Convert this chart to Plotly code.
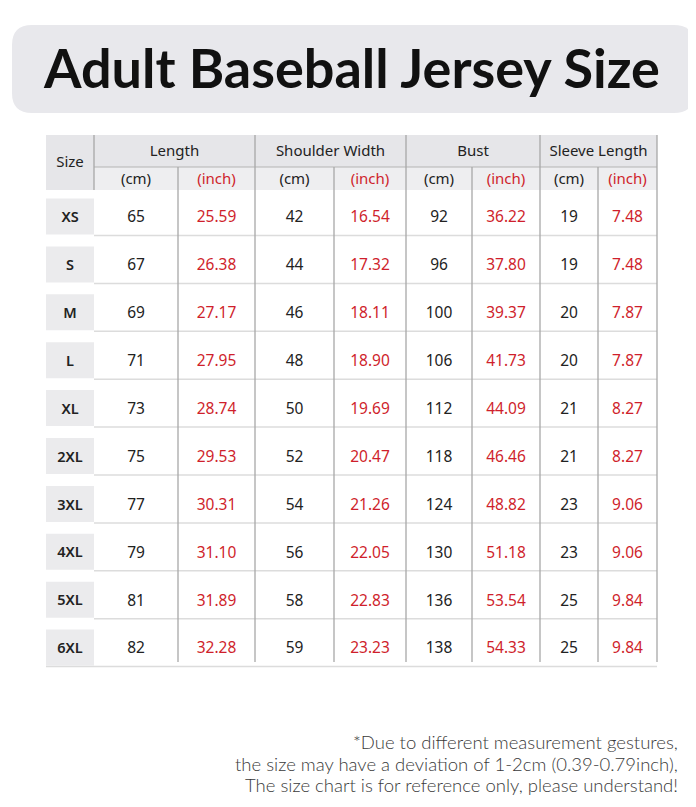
import plotly.graph_objects as go

# ---- data ----
sizes = ["XS", "S", "M", "L", "XL", "2XL", "3XL", "4XL", "5XL", "6XL"]
length_cm = [65, 67, 69, 71, 73, 75, 77, 79, 81, 82]
length_in = [25.59, 26.38, 27.17, 27.95, 28.74, 29.53, 30.31, 31.10, 31.89, 32.28]
shoulder_cm = [42, 44, 46, 48, 50, 52, 54, 56, 58, 59]
shoulder_in = [16.54, 17.32, 18.11, 18.90, 19.69, 20.47, 21.26, 22.05, 22.83, 23.23]
bust_cm = [92, 96, 100, 106, 112, 118, 124, 130, 136, 138]
bust_in = [36.22, 37.80, 39.37, 41.73, 44.09, 46.46, 48.82, 51.18, 53.54, 54.33]
sleeve_cm = [19, 19, 20, 20, 21, 21, 23, 23, 25, 25]
sleeve_in = [7.48, 7.48, 7.87, 7.87, 8.27, 8.27, 9.06, 9.06, 9.84, 9.84]

groups = ["Length", "Shoulder Width", "Bust", "Sleeve Length"]
units = ["(cm)", "(inch)"]
title = "Adult Baseball Jersey Size"
notes = [
    "*Due to different measurement gestures,",
    "the size may have a deviation of 1-2cm (0.39-0.79inch),",
    "The size chart is for reference only, please understand!",
]

# ---- layout constants (pixels of the page) ----
W, H = 696, 807
OFF = 8  # page body margin around the plot div
COL_EDGES = [46, 94, 178, 255, 334, 406, 472, 540, 598, 657]
HEAD_TOP, HEAD_MID, HEAD_BOT = 135, 167, 190
ROW0, PITCH = 216.5, 47.9
TABLE_BOT = 662
TEXT_DY = 2  # text baseline nudge

RED = "#CF1F2C"
INK = "#222222"
VLINE = "#A8A8A8"
HLINE = "#DCDCDC"
BODY_FONT = "Noto Sans"

rows_y = [ROW0 + i * PITCH for i in range(len(sizes))]
text_y = [y + TEXT_DY for y in rows_y]
centers = [(COL_EDGES[i] + COL_EDGES[i + 1]) / 2 for i in range(len(COL_EDGES) - 1)]

columns = [length_cm, length_in, shoulder_cm, shoulder_in,
           bust_cm, bust_in, sleeve_cm, sleeve_in]

fig = go.Figure()

# size labels
fig.add_trace(go.Scatter(
    x=[centers[0]] * len(sizes), y=text_y, text=sizes, mode="text",
    textfont=dict(family=BODY_FONT, size=14.5, color=INK, weight=600),
    hoverinfo="skip", showlegend=False))

# value columns
for j, col in enumerate(columns):
    is_inch = j % 2 == 1
    txt = [f"{v:.2f}" for v in col] if is_inch else [str(v) for v in col]
    fig.add_trace(go.Scatter(
        x=[centers[j + 1]] * len(col), y=text_y, text=txt, mode="text",
        textfont=dict(family=BODY_FONT, size=15.5, color=RED if is_inch else INK),
        hoverinfo="skip", showlegend=False))

# unit headers
unit_x = centers[1:]
unit_txt = [units[j % 2] for j in range(len(unit_x))]
fig.add_trace(go.Scatter(
    x=unit_x, y=[(HEAD_MID + HEAD_BOT) / 2 + TEXT_DY] * len(unit_x), text=unit_txt, mode="text",
    textfont=dict(family=BODY_FONT, size=15,
                  color=[RED if j % 2 else INK for j in range(len(unit_x))]),
    hoverinfo="skip", showlegend=False))

# group headers
group_x = [(COL_EDGES[1 + 2 * g] + COL_EDGES[3 + 2 * g]) / 2 for g in range(len(groups))]
fig.add_trace(go.Scatter(
    x=group_x + [centers[0]],
    y=[(HEAD_TOP + HEAD_MID) / 2 + 1] * len(groups) + [(HEAD_TOP + HEAD_BOT) / 2 + 1],
    text=groups + ["Size"], mode="text",
    textfont=dict(family=BODY_FONT, size=15, color=INK),
    hoverinfo="skip", showlegend=False))

shapes = []
# title box (rounded)
x0, x1, y0, y1, r = 12, 694, 25, 113, 20
shapes.append(dict(
    type="path", xref="x", yref="y", line_width=0, fillcolor="#E8E8EC", layer="below",
    path=(f"M {x0+r},{y0} L {x1-r},{y0} Q {x1},{y0} {x1},{y0+r} L {x1},{y1-r} "
          f"Q {x1},{y1} {x1-r},{y1} L {x0+r},{y1} Q {x0},{y1} {x0},{y1-r} "
          f"L {x0},{y0+r} Q {x0},{y0} {x0+r},{y0} Z")))

# header backgrounds
shapes.append(dict(type="rect", x0=COL_EDGES[0], x1=COL_EDGES[1], y0=HEAD_TOP, y1=HEAD_BOT,
                   fillcolor="#E6E6E9", line_width=0, layer="below"))
shapes.append(dict(type="rect", x0=COL_EDGES[1], x1=COL_EDGES[-1], y0=HEAD_TOP, y1=HEAD_MID,
                   fillcolor="#E6E6E9", line_width=0, layer="below"))
shapes.append(dict(type="rect", x0=COL_EDGES[1], x1=COL_EDGES[-1], y0=HEAD_MID, y1=HEAD_BOT,
                   fillcolor="#EEEEF0", line_width=0, layer="below"))

# size cells
for yc in rows_y:
    shapes.append(dict(type="rect", x0=COL_EDGES[0], x1=COL_EDGES[1], y0=yc - 18, y1=yc + 18,
                       fillcolor="#EBEBED", line_width=0, layer="below"))

# row separators
for i, yc in enumerate(rows_y):
    xs = COL_EDGES[0] if i == len(rows_y) - 1 else COL_EDGES[1]
    shapes.append(dict(type="line", x0=xs, x1=COL_EDGES[-1], y0=yc + 19, y1=yc + 19,
                       line=dict(color=HLINE, width=1.5), layer="below"))

# header divider
shapes.append(dict(type="line", x0=COL_EDGES[1], x1=COL_EDGES[-1], y0=HEAD_MID, y1=HEAD_MID,
                   line=dict(color="#B3B3B3", width=1.2)))

# vertical lines
shapes.append(dict(type="line", x0=COL_EDGES[1], x1=COL_EDGES[1], y0=HEAD_TOP, y1=HEAD_BOT,
                   line=dict(color=VLINE, width=1.3)))
for k in range(2, len(COL_EDGES)):
    top = HEAD_TOP if k % 2 == 1 else HEAD_MID
    shapes.append(dict(type="line", x0=COL_EDGES[k], x1=COL_EDGES[k], y0=top, y1=TABLE_BOT,
                       line=dict(color=VLINE, width=1.3)))

annotations = [dict(
    x=351, y=67, xref="x", yref="y", text=f"<b>{title}</b>", showarrow=False,
    font=dict(family="Lato", size=54, color="#111111"))]
for i, line in enumerate(notes):
    annotations.append(dict(
        x=680, y=742 + i * 21.5, xref="x", yref="y", text=line, showarrow=False,
        xanchor="right", font=dict(family="Lato", size=18.5, color="#3A3A3A", weight=300)))

fig.update_layout(
    width=W, height=H, autosize=False,
    margin=dict(l=0, r=0, t=0, b=0),
    paper_bgcolor="white", plot_bgcolor="white",
    xaxis=dict(range=[OFF, W + OFF], visible=False, fixedrange=True),
    yaxis=dict(range=[H + OFF, OFF], visible=False, fixedrange=True),
    shapes=shapes, annotations=annotations,
)

fig.write_html("out.html")
